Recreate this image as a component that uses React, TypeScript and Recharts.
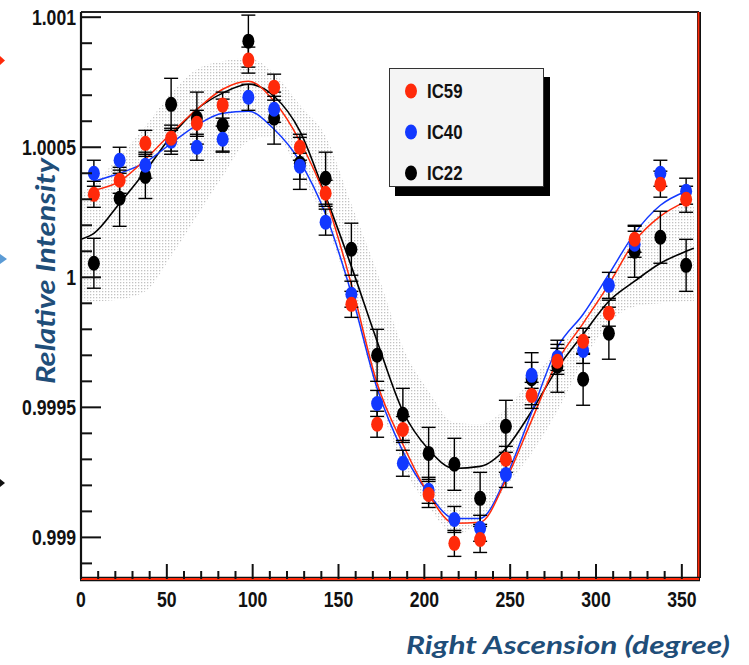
import React from 'react';
import { ComposedChart, XAxis, YAxis, Scatter, Line, Area, ErrorBar, ReferenceLine } from 'recharts';

// Right ascension bin centres (degrees)
const RA_BINS = [7.5, 22.5, 37.5, 52.5, 67.5, 82.5, 97.5, 112.5, 127.5, 142.5, 157.5, 172.5,
  187.5, 202.5, 217.5, 232.5, 247.5, 262.5, 277.5, 292.5, 307.5, 322.5, 337.5, 352.5];

// Relative intensity per bin
const IC59 = [1.000319, 1.000373, 1.000515, 1.000535, 1.000592, 1.000662, 1.000835, 1.000731,
  1.0005, 1.000323, 0.999896, 0.999435, 0.999415, 0.999165, 0.998977, 0.998992,
  0.9993, 0.999546, 0.999677, 0.999754, 0.999862, 1.000146, 1.000358, 1.0003];
const IC59_ERR = [0.00005, 0.00005, 0.00005, 0.00005, 0.00005, 0.00005, 0.00005, 0.00005,
  0.00005, 0.00005, 0.00005, 0.00005, 0.00005, 0.00005, 0.00005, 0.00005,
  0.00005, 0.00005, 0.00005, 0.00005, 0.00005, 0.00005, 0.00005, 0.00005];

const IC40 = [1.0004, 1.00045, 1.000431, 1.000523, 1.0005, 1.000531, 1.000692, 1.000646,
  1.000427, 1.000212, 0.999935, 0.999515, 0.999285, 0.999181, 0.999069, 0.999035,
  0.999242, 0.999623, 0.999692, 0.999719, 0.999969, 1.000127, 1.0004, 1.000331];
const IC40_ERR = [0.00005, 0.00005, 0.00005, 0.00005, 0.00005, 0.00005, 0.00005, 0.00005,
  0.00005, 0.00005, 0.00005, 0.00005, 0.00005, 0.00005, 0.00005, 0.00005,
  0.00005, 0.00005, 0.00005, 0.00005, 0.00005, 0.00005, 0.00005, 0.00005];

const IC22 = [1.000054, 1.000304, 1.000388, 1.000665, 1.000612, 1.000585, 1.000908, 1.000612,
  1.000438, 1.000381, 1.000108, 0.9997, 0.999473, 0.999323, 0.999281, 0.99915,
  0.999427, 0.99961, 0.999658, 0.999608, 0.999785, 1.0001, 1.000154, 1.000046];
const IC22_ERR = [0.000096, 0.000108, 0.000085, 0.0001, 0.0001, 0.0001, 0.0001, 0.0001,
  0.0001, 0.0001, 0.0001, 0.0001, 0.0001, 0.0001, 0.0001, 0.0001,
  0.0001, 0.0001, 0.0001, 0.0001, 0.0001, 0.0001, 0.0001, 0.0001];

// Harmonic fit curves
const IC59_FIT = [1.000335, 1.000369, 1.000454, 1.000554, 1.000646, 1.000723, 1.000754, 1.000677,
  1.000523, 1.000304, 0.999973, 0.999592, 0.999358, 0.999165, 0.999054, 0.999058,
  0.99922, 0.99945, 0.999677, 0.999823, 0.999973, 1.000138, 1.000235, 1.000292];
const IC40_FIT = [1.000369, 1.0004, 1.000442, 1.000515, 1.000585, 1.000631, 1.000638, 1.000569,
  1.000446, 1.000242, 0.999938, 0.999573, 0.999331, 0.999169, 0.999073, 0.999073,
  0.99923, 0.99948, 0.99973, 0.999858, 1.000012, 1.000169, 1.000277, 1.000331];

const IC22_FIT_RA = [0, 7.5, 22.5, 37.5, 52.5, 67.5, 82.5, 97.5, 112.5, 127.5, 142.5, 157.5, 172.5,
  187.5, 202.5, 217.5, 232.5, 247.5, 262.5, 277.5, 292.5, 307.5, 322.5, 337.5, 352.5, 357];
const IC22_FIT = [1.000146, 1.000169, 1.000285, 1.000408, 1.000542, 1.000646, 1.000708, 1.000742,
  1.000696, 1.000562, 1.000312, 1.000042, 0.999754, 0.999485, 0.999338, 0.999265,
  0.999273, 0.999342, 0.999485, 0.99965, 0.999781, 0.999908, 0.999985, 1.000054, 1.0001, 1.000112];
const IC22_BAND_HI = [1.000323, 1.000362, 1.000465, 1.000581, 1.000708, 1.0008, 1.000831, 1.000842,
  1.000785, 1.000662, 1.000542, 1.000281, 1.000019, 0.999731, 0.999562, 0.999442,
  0.999435, 0.999496, 0.999608, 0.999723, 0.999842, 0.999992, 1.000162, 1.000242, 1.000273, 1.000273];
const IC22_BAND_LO = [0.999915, 0.999908, 0.999915, 0.999946, 1.000081, 1.000235, 1.000388, 1.000523,
  1.000542, 1.0004, 1.000208, 0.999919, 0.99955, 0.999273, 0.999119, 0.999012,
  0.999062, 0.999196, 0.999323, 0.999485, 0.999677, 0.999823, 0.999888, 0.9999, 0.999908, 0.999908];

// Axes
const X_DOMAIN = [0, 360];
const X_TICKS = [0, 10, 20, 30, 40, 50, 60, 70, 80, 90, 100, 110, 120, 130, 140, 150, 160, 170,
  180, 190, 200, 210, 220, 230, 240, 250, 260, 270, 280, 290, 300, 310, 320, 330, 340, 350];
const X_LABELED = [0, 50, 100, 150, 200, 250, 300, 350];
const Y_DOMAIN = [0.99884, 1.00102];
const Y_TICKS = [0.9989, 0.999, 0.9991, 0.9992, 0.9993, 0.9994, 0.9995, 0.9996, 0.9997, 0.9998,
  0.9999, 1, 1.0001, 1.0002, 1.0003, 1.0004, 1.0005, 1.0006, 1.0007, 1.0008, 1.0009, 1.001];
const Y_LABELED = [0.999, 0.9995, 1, 1.0005, 1.001];
const Y_LABEL_TEXT = ['0.999', '0.9995', '1', '1.0005', '1.001'];

const SERIES = [
  { name: 'IC59', color: '#ff2a0a' },
  { name: 'IC40', color: '#1238ff' },
  { name: 'IC22', color: '#000000' },
];

const points = (ys: number[], errs: number[]) =>
  RA_BINS.map((x, i) => ({ x, y: ys[i], err: errs[i] }));
const curve = (xs: number[], ys: number[]) => xs.map((x, i) => ({ x, y: ys[i] }));

const ic59Points = points(IC59, IC59_ERR);
const ic40Points = points(IC40, IC40_ERR);
const ic22Points = points(IC22, IC22_ERR);
const ic59Fit = curve(RA_BINS, IC59_FIT);
const ic40Fit = curve(RA_BINS, IC40_FIT);
const ic22Fit = curve(IC22_FIT_RA, IC22_FIT);
const ic22Band = IC22_FIT_RA.map((x, i) => ({ x, range: [IC22_BAND_LO[i], IC22_BAND_HI[i]] }));

const LABEL_FONT = '"Liberation Sans", Arial, sans-serif';
const TITLE_COLOR = '#1f4e79';

const XTick = (props: any) => {
  const { x, y, payload } = props;
  const v = payload.value;
  const major = X_LABELED.includes(v);
  return (
    <g>
      <line x1={x} x2={x} y1={y} y2={y - (major ? 15 : 8)} stroke="#111" strokeWidth={2} />
      {major && (
        <text transform={`translate(${x},${y + 28}) scale(0.82,1)`} textAnchor="middle"
          fontFamily={LABEL_FONT} fontWeight="bold" fontSize={21.5} fill="#111">{v}</text>
      )}
    </g>
  );
};

const YTick = (props: any) => {
  const { x, y, payload } = props;
  const v = payload.value;
  const idx = Y_LABELED.findIndex((m) => Math.abs(m - v) < 1e-9);
  const major = idx >= 0;
  return (
    <g>
      <line x1={x} x2={x + (major ? 20 : 11)} y1={y} y2={y} stroke="#111" strokeWidth={2} />
      {major && (
        <text transform={`translate(${x - 5},${y + 7.5}) scale(0.82,1)`} textAnchor="end"
          fontFamily={LABEL_FONT} fontWeight="bold" fontSize={21.5} fill="#111">{Y_LABEL_TEXT[idx]}</text>
      )}
    </g>
  );
};

const marker = (color: string) => (p: any) =>
  <ellipse cx={p.cx} cy={p.cy} rx={6} ry={7.5} fill={color} />;

const BottomFrame = (p: any) => (
  <g>
    <line x1={p.x1 - 1} x2={p.x2 + 1} y1={p.y1} y2={p.y2} stroke="#111" strokeWidth={4.5} />
    <line x1={p.x1} x2={p.x2} y1={p.y1} y2={p.y2} stroke="#ff2a0a" strokeWidth={2} />
  </g>
);
const RightFrame = (p: any) => (
  <g>
    <line x1={p.x1} x2={p.x2} y1={p.y1 - 1} y2={p.y2} stroke="#111" strokeWidth={4} />
    <line x1={p.x1 - 0.5} x2={p.x2 - 0.5} y1={p.y1} y2={p.y2} stroke="#ff2a0a" strokeWidth={1.8} />
  </g>
);

export default function App() {
  return (
    <div style={{ position: 'absolute', left: 0, top: 0, width: 749, height: 665, background: '#fff' }}>
      <ComposedChart width={749} height={665} margin={{ top: 12, right: 50, bottom: 85, left: 80 }}>
        <defs>
          <pattern id="stipple" width="3" height="3" patternUnits="userSpaceOnUse">
            <rect x="0" y="0" width="1.3" height="1.3" fill="#999" />
          </pattern>
        </defs>
        <XAxis dataKey="x" type="number" domain={X_DOMAIN} allowDataOverflow ticks={X_TICKS}
          interval={0} height={1} tickSize={0} tickMargin={0} tick={<XTick />}
          axisLine={false} tickLine={false} />
        <YAxis type="number" domain={Y_DOMAIN} allowDataOverflow ticks={Y_TICKS} interval={0}
          width={1} tickSize={0} tickMargin={0} tick={<YTick />}
          axisLine={false} tickLine={false} />

        <Area data={ic22Band} dataKey="range" type="monotone" stroke="none" fill="url(#stipple)"
          isAnimationActive={false} />

        <Line data={ic22Fit} dataKey="y" type="monotone" stroke="#000" strokeWidth={1.6}
          dot={false} isAnimationActive={false} />
        <Line data={ic40Fit} dataKey="y" type="monotone" stroke={SERIES[1].color} strokeWidth={1.5}
          dot={false} isAnimationActive={false} />
        <Line data={ic59Fit} dataKey="y" type="monotone" stroke={SERIES[0].color} strokeWidth={1.5}
          dot={false} isAnimationActive={false} />

        <Scatter data={ic22Points} dataKey="y" shape={marker(SERIES[2].color)} isAnimationActive={false}>
          <ErrorBar dataKey="err" direction="y" width={7} stroke="#000" strokeWidth={1.4} />
        </Scatter>
        <Scatter data={ic40Points} dataKey="y" shape={marker(SERIES[1].color)} isAnimationActive={false}>
          <ErrorBar dataKey="err" direction="y" width={7} stroke="#000" strokeWidth={1.4} />
        </Scatter>
        <Scatter data={ic59Points} dataKey="y" shape={marker(SERIES[0].color)} isAnimationActive={false}>
          <ErrorBar dataKey="err" direction="y" width={7} stroke="#000" strokeWidth={1.4} />
        </Scatter>

        <ReferenceLine y={Y_DOMAIN[1]} stroke="#222" strokeWidth={2} />
        <ReferenceLine x={X_DOMAIN[0]} stroke="#111" strokeWidth={2.2} />
        <ReferenceLine x={X_DOMAIN[1]} shape={RightFrame} />
        <ReferenceLine y={Y_DOMAIN[0]} shape={BottomFrame} />

        <text transform="translate(55,271) rotate(-90)" textAnchor="middle" textLength={226}
          lengthAdjust="spacingAndGlyphs" fontFamily="Lato, 'Open Sans', sans-serif"
          fontStyle="italic" fontWeight="bold" fontSize={26} fill={TITLE_COLOR}>Relative Intensity</text>
        <text x={406} y={654} textLength={324} lengthAdjust="spacingAndGlyphs"
          fontFamily="Lato, 'Open Sans', sans-serif" fontStyle="italic" fontWeight="bold"
          fontSize={24} fill={TITLE_COLOR}>Right Ascension (degree)</text>
      </ComposedChart>

      {/* slide pointer marks along the left edge */}
      <svg width={12} height={665} style={{ position: 'absolute', left: 0, top: 0 }}>
        <polygon points="0,56 5,60.5 0,65" fill="#ff2a0a" />
        <polygon points="0,254 7,259 0,264" fill="#5b9bd5" />
        <polygon points="0,479 5,483 0,487" fill="#111" />
      </svg>

      <div style={{
        position: 'absolute', left: 389, top: 68, width: 153, height: 117,
        background: '#f4f4f4', border: '1.5px solid #333', boxShadow: '6px 9px 0 #000',
      }}>
        {SERIES.map((s, i) => (
          <div key={s.name} style={{ position: 'absolute', left: 0, top: 8 + i * 41, height: 30, width: 150 }}>
            <svg width={30} height={30} style={{ position: 'absolute', left: 6, top: 0 }}>
              <ellipse cx={15} cy={14} rx={6} ry={7.5} fill={s.color} />
            </svg>
            <span style={{
              position: 'absolute', left: 37, top: 2, fontFamily: LABEL_FONT, fontWeight: 'bold',
              fontSize: 21, color: '#111', transform: 'scaleX(0.8)', transformOrigin: 'left center',
              lineHeight: '24px',
            }}>{s.name}</span>
          </div>
        ))}
      </div>
    </div>
  );
}
